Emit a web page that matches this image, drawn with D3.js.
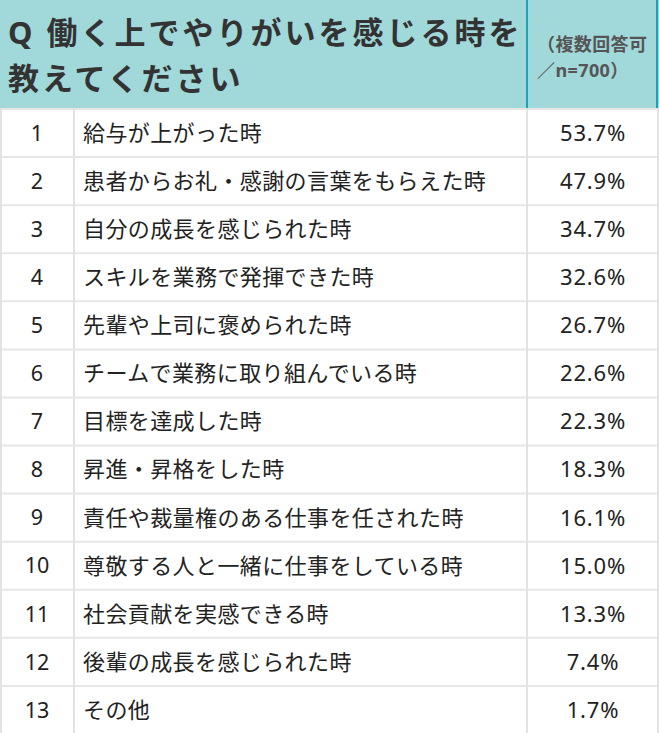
<!DOCTYPE html>
<html><head><meta charset="utf-8">
<script src="https://cdn.jsdelivr.net/npm/d3@7"></script>
<style>
html,body{margin:0;padding:0;background:#fff;}
svg{display:block;}
text{font-family:"Noto Sans","Noto Sans CJK JP",sans-serif;}
</style></head>
<body>
<div id="chart"></div>
<script>
const titleLines = ["Q 働く上でやりがいを感じる時を", "教えてください"];
const noteLines = ["（複数回答可", "／n=700）"];
const ranks = ["1","2","3","4","5","6","7","8","9","10","11","12","13"];
const answers = ["給与が上がった時","患者からお礼・感謝の言葉をもらえた時","自分の成長を感じられた時","スキルを業務で発揮できた時","先輩や上司に褒められた時","チームで業務に取り組んでいる時","目標を達成した時","昇進・昇格をした時","責任や裁量権のある仕事を任された時","尊敬する人と一緒に仕事をしている時","社会貢献を実感できる時","後輩の成長を感じられた時","その他"];
const percents = [53.7,47.9,34.7,32.6,26.7,22.6,22.3,18.3,16.1,15.0,13.3,7.4,1.7];

const W = 659, H = 733, headerH = 108;
const col1 = 74, col2 = 527;
const svg = d3.select("#chart").append("svg").attr("width", W).attr("height", H);

// header
svg.append("rect").attr("x",0).attr("y",0).attr("width",W).attr("height",headerH).attr("fill","#a1d9db");
svg.append("line").attr("x1",col2).attr("x2",col2).attr("y1",0).attr("y2",headerH).attr("stroke","#1ba3b3").attr("stroke-width",2);
svg.append("line").attr("x1",W-2).attr("x2",W-2).attr("y1",0).attr("y2",headerH).attr("stroke","#1ba3b3").attr("stroke-width",2);

const tLineY = d3.scaleBand().domain(d3.range(titleLines.length)).range([10,102]);
svg.selectAll("text.title").data(titleLines).join("text").attr("class","title")
  .attr("x",8).attr("y",(d,i)=>tLineY(i)+tLineY.bandwidth()/2)
  .attr("dy","0.36em").attr("font-size",31).attr("font-weight",700)
  .attr("letter-spacing",3).attr("fill","#333").text(d=>d);

const nLineY = d3.scaleBand().domain(d3.range(noteLines.length)).range([32,84]);
svg.selectAll("text.note").data(noteLines).join("text").attr("class","note")
  .attr("x",537).attr("y",(d,i)=>nLineY(i)+nLineY.bandwidth()/2)
  .attr("dy","0.36em").attr("font-size",18).attr("font-weight",700)
  .attr("letter-spacing",0.4).attr("fill","#555").text(d=>d);

// rows
const y = d3.scaleBand().domain(ranks).range([headerH, H]);
const rows = svg.selectAll("g.row").data(ranks).join("g").attr("class","row")
  .attr("transform", d=>`translate(0,${y(d)})`);
rows.append("rect").attr("x",0).attr("y",0).attr("width",W).attr("height",y.bandwidth()).attr("fill","#fff");
rows.append("line").attr("x1",0).attr("x2",W).attr("y1",1).attr("y2",1).attr("stroke","#e6e6e6").attr("stroke-width",2);

// vertical lines
[1, col1, col2, W-1].forEach(x=>{
  svg.append("line").attr("x1",x).attr("x2",x).attr("y1",headerH).attr("y2",H).attr("stroke","#e2e2e2").attr("stroke-width",2);
});

rows.append("text").attr("x",37).attr("y",y.bandwidth()/2+1).attr("dy","0.36em")
  .attr("text-anchor","middle").attr("font-size",21.5).attr("fill","#222").text(d=>d);
rows.append("text").attr("x",83).attr("y",y.bandwidth()/2+1).attr("dy","0.36em")
  .attr("font-size",22).attr("letter-spacing",0.4).attr("fill","#222").text((d,i)=>answers[i]);
rows.append("text").attr("x",593).attr("y",y.bandwidth()/2+1).attr("dy","0.36em")
  .attr("text-anchor","middle").attr("font-size",22).attr("letter-spacing",0.8).attr("fill","#222")
  .text((d,i)=>d3.format(".1f")(percents[i])+"%");
</script>
</body></html>
